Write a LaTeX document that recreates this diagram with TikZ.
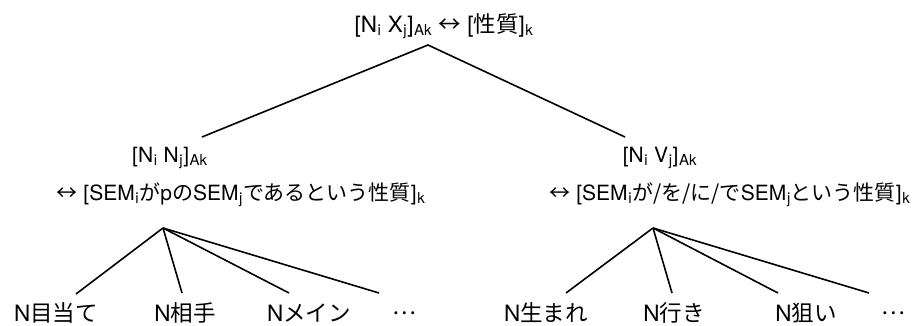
\documentclass[tikz,border=0pt]{standalone}
\usepackage{fontspec}
\setmainfont{TeX Gyre Heros}
\newfontfamily\jp{Noto Sans CJK JP}
\newcommand{\sbs}[1]{\kern0.6pt\relax\raisebox{-0.25ex}{\fontsize{15pt}{15pt}\selectfont #1}\kern0.6pt\relax}
\newcommand{\arr}{{\jp ↔}}
\begin{document}
\begin{tikzpicture}[x=1pt,y=-1pt,
  lbl/.style={inner sep=0pt,font=\fontsize{21pt}{25pt}\selectfont},
  big/.style={inner sep=0pt,font=\fontsize{22.5pt}{26pt}\selectfont},
  edge/.style={line width=1.6pt}]
\useasboundingbox (0,0) rectangle (922,326);
\node[big] (top) at (444,26) {[N\sbs{i} X\sbs{j}]\sbs{Ak} \arr{} [{\jp 性質}]\sbs{k}};
\coordinate (topa) at (428,45);
\node[lbl] (ln) at (170,158) {[N\sbs{i} N\sbs{j}]\sbs{Ak}};
\node[lbl] (lsem) at (241,195) {\arr{} [SEM\sbs{i}{\jp が}p{\jp の}SEM\sbs{j}{\jp であるという性質}]\sbs{k}};
\node[lbl] (rn) at (660,158) {[N\sbs{i} V\sbs{j}]\sbs{Ak}};
\node[lbl] (rsem) at (730,195) {\arr{} [SEM\sbs{i}{\jp が/を/に/で}SEM\sbs{j}{\jp という性質}]\sbs{k}};
\coordinate (la) at (202,137);
\coordinate (ra) at (625,137);
\draw[edge] (la) -- (topa) -- (ra);
\coordinate (lb) at (163,228);
\coordinate (rb) at (653,228);
\node[big] (l1) at (56,313) {N{\jp 目当て}};
\node[big] (l2) at (185,313) {N{\jp 相手}};
\node[big] (l3) at (309,313) {N{\jp メイン}};
\node[big] (l4) at (404,313) {\jp …};
\node[big] (r1) at (546,313) {N{\jp 生まれ}};
\node[big] (r2) at (674,313) {N{\jp 行き}};
\node[big] (r3) at (806,313) {N{\jp 狙い}};
\node[big] (r4) at (893,313) {\jp …};
\coordinate (l1t) at (76,294);
\coordinate (l2t) at (182,293);
\coordinate (l3t) at (289,293);
\coordinate (l4t) at (379,293);
\coordinate (r1t) at (566,293);
\coordinate (r2t) at (672,293);
\coordinate (r3t) at (778,293);
\coordinate (r4t) at (869,293);
\foreach \t in {l1t,l2t,l3t,l4t} \draw[edge] (lb) -- (\t);
\foreach \t in {r1t,r2t,r3t,r4t} \draw[edge] (rb) -- (\t);
\end{tikzpicture}
\end{document}
